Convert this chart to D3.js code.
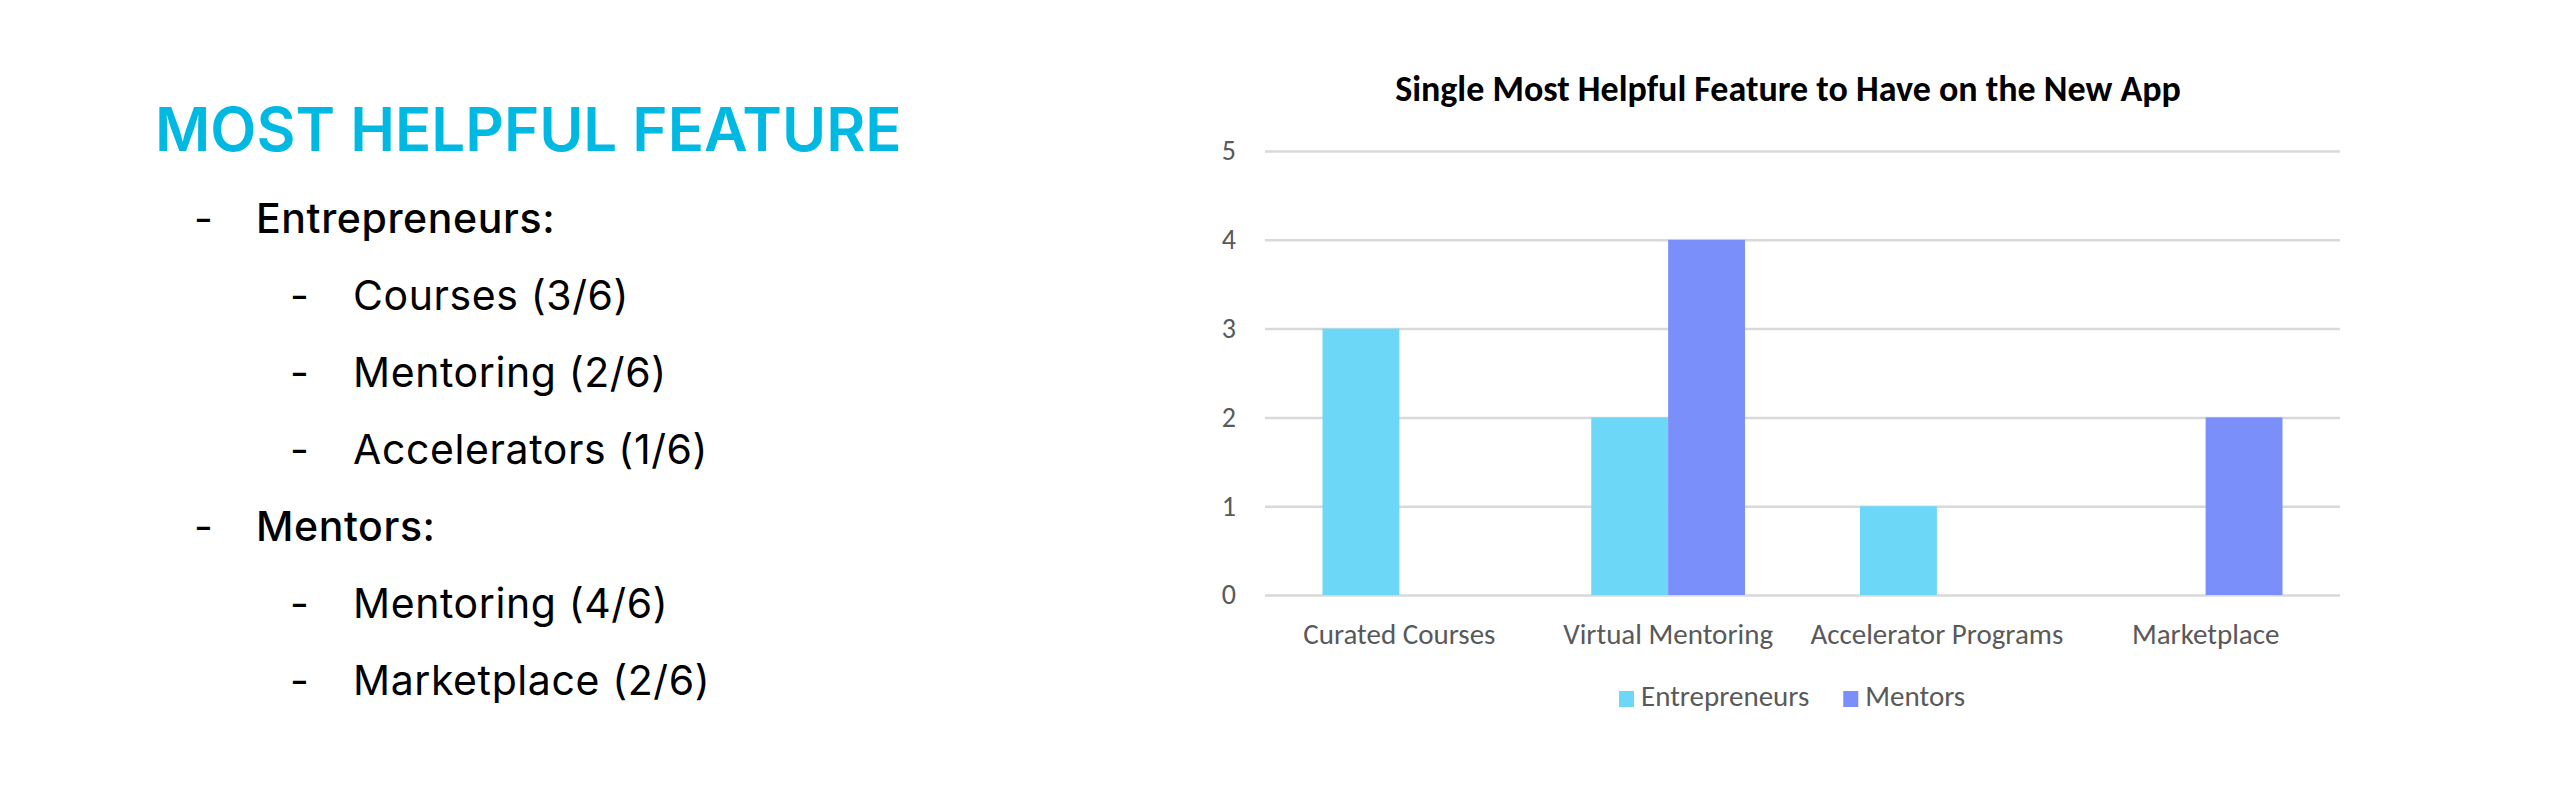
<!DOCTYPE html>
<html>
<head>
<meta charset="utf-8">
<script src="https://cdn.jsdelivr.net/npm/d3@7"></script>
<style>
  body { margin: 0; background: #ffffff; }
  svg { display: block; }
</style>
</head>
<body>
<div id="slide"></div>
<script>
// Chart data
const categories = ['Curated Courses', 'Virtual Mentoring', 'Accelerator Programs', 'Marketplace'];
const seriesNames = ['Entrepreneurs', 'Mentors'];
const entrepreneurs = [3, 2, 1, 0];
const mentors = [0, 4, 0, 2];
const yTicks = [0, 1, 2, 3, 4, 5];

// Left-hand bullet text
const heading = 'MOST HELPFUL FEATURE';
const bullets = [
    { level: 0, text: 'Entrepreneurs:' },
    { level: 1, text: 'Courses (3/6)' },
    { level: 1, text: 'Mentoring (2/6)' },
    { level: 1, text: 'Accelerators (1/6)' },
    { level: 0, text: 'Mentors:' },
    { level: 1, text: 'Mentoring (4/6)' },
    { level: 1, text: 'Marketplace (2/6)' }
];

const colors = { Entrepreneurs: '#6dd7f8', Mentors: '#7b8ffa' };
const chartFont = 'Carlito, Calibri, Lato, sans-serif';

const svg = d3.select('#slide')
    .append('svg')
    .attr('width', 2560)
    .attr('height', 800);

// ---- left text block ----
const textBlock = svg.append('g').attr('font-family', 'Inter, sans-serif');

textBlock.append('text')
    .attr('x', 155)
    .attr('y', 151)
    .attr('font-size', '60px')
    .attr('font-weight', 600)
    .attr('fill', '#00b9e2')
    .text(heading);

bullets.forEach((b, i) => {
    const y = 233 + i * 77;
    textBlock.append('text')
        .attr('x', b.level === 0 ? 194 : 290)
        .attr('y', y)
        .attr('font-size', '41px')
        .attr('fill', '#000')
        .text('-');
    textBlock.append('text')
        .attr('x', b.level === 0 ? 256 : 353)
        .attr('y', y)
        .attr('font-size', '41px')
        .attr('letter-spacing', '0.6px')
        .attr('font-weight', b.level === 0 ? 500 : 400)
        .attr('fill', '#000')
        .text(b.text);
});

// ---- bar chart ----
const plot = { left: 1265, right: 2340, top: 151, bottom: 595 };

const x0 = d3.scaleBand()
    .domain(categories)
    .range([plot.left, plot.right])
    .paddingInner(0.428)
    .paddingOuter(0.214);

const x1 = d3.scaleBand()
    .domain(seriesNames)
    .range([0, x0.bandwidth()]);

const y = d3.scaleLinear()
    .domain([0, 5])
    .range([plot.bottom, plot.top]);

const chart = svg.append('g').attr('font-family', chartFont);

// Title
chart.append('text')
    .attr('x', 1788)
    .attr('y', 101)
    .attr('text-anchor', 'middle')
    .attr('font-size', '36px')
    .attr('font-weight', 700)
    .attr('fill', '#000')
    .text('Single Most Helpful Feature to Have on the New App');

// Gridlines + y labels
const yAxis = chart.append('g')
    .attr('transform', `translate(${plot.left},0)`)
    .call(d3.axisLeft(y)
        .tickValues(yTicks)
        .tickSize(-(plot.right - plot.left))
        .tickPadding(29)
        .tickFormat(d3.format('d')));

yAxis.select('.domain').remove();
yAxis.selectAll('.tick line')
    .attr('stroke', '#d9d9d9')
    .attr('stroke-width', 2.5);
yAxis.selectAll('.tick text')
    .attr('fill', '#595959')
    .attr('font-size', '28px')
    .attr('font-family', chartFont);

// Bars
const rows = categories.map((c, i) => ({
    category: c,
    values: [
        { series: 'Entrepreneurs', value: entrepreneurs[i] },
        { series: 'Mentors', value: mentors[i] }
    ]
}));

chart.append('g')
    .selectAll('g')
    .data(rows)
    .enter()
    .append('g')
    .attr('transform', d => `translate(${x0(d.category)},0)`)
    .selectAll('rect')
    .data(d => d.values.filter(v => v.value > 0))
    .enter()
    .append('rect')
    .attr('x', d => x1(d.series))
    .attr('y', d => y(d.value))
    .attr('width', x1.bandwidth())
    .attr('height', d => y(0) - y(d.value))
    .attr('fill', d => colors[d.series]);

// Category labels
const xAxis = chart.append('g')
    .attr('transform', `translate(0,${plot.bottom})`)
    .call(d3.axisBottom(x0).tickSize(0).tickPadding(28));

xAxis.select('.domain').remove();
xAxis.selectAll('.tick text')
    .attr('fill', '#595959')
    .attr('font-size', '29px')
    .attr('font-family', chartFont);

// Legend
const legend = chart.append('g')
    .attr('transform', 'translate(1619, 691)');

let lx = 0;
seriesNames.forEach(name => {
    legend.append('rect')
        .attr('x', lx)
        .attr('y', 0)
        .attr('width', 15)
        .attr('height', 16)
        .attr('fill', colors[name]);
    const t = legend.append('text')
        .attr('x', lx + 22)
        .attr('y', 15)
        .attr('font-size', '29px')
        .attr('fill', '#595959')
        .text(name);
    lx += 22 + t.node().getComputedTextLength() + 34;
});
</script>
</body>
</html>
